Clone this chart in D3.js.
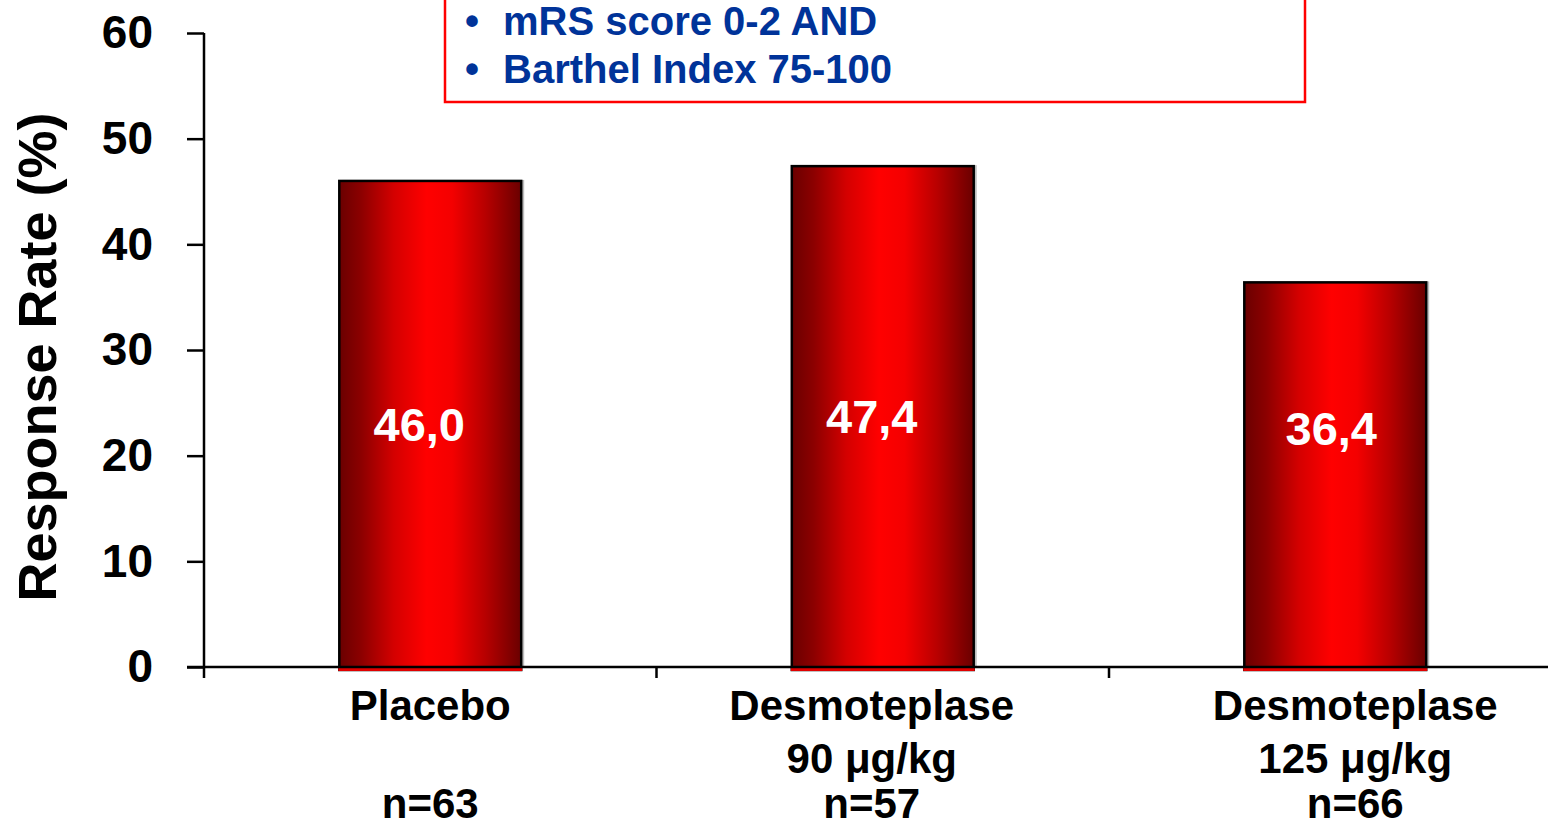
<!DOCTYPE html>
<html>
<head>
<meta charset="utf-8">
<script src="https://cdn.jsdelivr.net/npm/d3@7"></script>
<style>
  html, body { margin: 0; padding: 0; background: #fff; }
  svg { display: block; font-family: "Liberation Sans", Arial, sans-serif; font-weight: bold; }
</style>
</head>
<body>
<svg id="chart" width="1548" height="829"></svg>
<script>
// Response rate by treatment arm
const categories = ["Placebo", "Desmoteplase 90", "Desmoteplase 125"];
const categoryLines = [
  ["Placebo", "", "n=63"],
  ["Desmoteplase", "90 μg/kg", "n=57"],
  ["Desmoteplase", "125 μg/kg", "n=66"]
];
const responseRate = [46.0, 47.4, 36.4];
const valueLabels = ["46,0", "47,4", "36,4"];
const yTicks = [0, 10, 20, 30, 40, 50, 60];
const endpointLines = ["mRS score 0-2 AND", "Barthel Index 75-100"];

// layout
const W = 1548, H = 829;
const plotLeft = 204, plotTop = 33, plotBottom = 667;
const step = 452.5;
const barFrac = 0.402;
const labelDx = [-11, -11, -4];          // small horizontal nudges of value labels
const labelAt = [23.0, 23.7, 22.6];      // value-label anchor, in response-rate units
const catDx = [0, -11, 20];              // nudges of category label blocks
const catLineY = [720, 773, 818];        // baselines of the category label lines

const svg = d3.select("#chart");

const x = d3.scaleBand()
  .domain(categories)
  .range([plotLeft, plotLeft + step * categories.length])
  .padding(0);

const y = d3.scaleLinear().domain([0, 60]).range([plotBottom, plotTop]);

// bar gradient: dark edges, bright red centre
const defs = svg.append("defs");
const grad = defs.append("linearGradient")
  .attr("id", "barGrad").attr("x1", "0%").attr("x2", "100%").attr("y1", "0%").attr("y2", "0%");
[
  [0, "#6a0000"], [0.12, "#8c0000"], [0.3, "#d40000"], [0.48, "#ff0000"],
  [0.62, "#f40000"], [0.8, "#b80000"], [1, "#6a0000"]
].forEach(([o, c]) => grad.append("stop").attr("offset", o).attr("stop-color", c));

const barW = x.bandwidth() * barFrac;
const barX = c => x(c) + (x.bandwidth() - barW) / 2;

// soft shadow on the right
svg.append("g").selectAll("rect")
  .data(categories)
  .join("rect")
  .attr("x", c => barX(c) + 3)
  .attr("y", (c, i) => y(responseRate[i]) - 1)
  .attr("width", barW)
  .attr("height", (c, i) => y(0) - y(responseRate[i]))
  .attr("fill", "#bdbdbd");

// bars (fill runs a touch below the baseline)
svg.append("g").selectAll("rect")
  .data(categories)
  .join("rect")
  .attr("x", c => barX(c))
  .attr("y", (c, i) => y(responseRate[i]))
  .attr("width", barW)
  .attr("height", (c, i) => y(0) - y(responseRate[i]) + 3)
  .attr("fill", "url(#barGrad)")
  .attr("stroke", "#000")
  .attr("stroke-width", 2.5);
svg.append("g").selectAll("rect")
  .data(categories)
  .join("rect")
  .attr("x", c => barX(c) - 1)
  .attr("y", y(0) + 1)
  .attr("width", barW + 2)
  .attr("height", 3)
  .attr("fill", "#e00000");

// value labels
svg.append("g").selectAll("text")
  .data(categories)
  .join("text")
  .attr("x", (c, i) => x(c) + x.bandwidth() / 2 + labelDx[i])
  .attr("y", (c, i) => y(labelAt[i]))
  .attr("dy", "0.36em")
  .attr("text-anchor", "middle")
  .attr("fill", "#fff")
  .attr("font-size", 47)
  .text((c, i) => valueLabels[i]);

// y axis
const yAxis = svg.append("g")
  .attr("transform", `translate(${plotLeft},0)`)
  .call(d3.axisLeft(y).tickValues(yTicks).tickFormat(d3.format("d")).tickSize(17).tickPadding(34));
yAxis.select(".domain").attr("stroke", "#000").attr("stroke-width", 2.5).attr("d", `M0,${plotTop}V${plotBottom}`);
yAxis.selectAll(".tick line").attr("stroke", "#000").attr("stroke-width", 2.5);
yAxis.selectAll(".tick text")
  .attr("font-size", 46).attr("font-family", "Liberation Sans, Arial, sans-serif")
  .attr("font-weight", "bold").attr("fill", "#000");

// x axis baseline and category separators
svg.append("line")
  .attr("x1", plotLeft - 17).attr("x2", W)
  .attr("y1", y(0)).attr("y2", y(0))
  .attr("stroke", "#000").attr("stroke-width", 2.5);
svg.append("g").selectAll("line")
  .data(categories)
  .join("line")
  .attr("x1", c => x(c)).attr("x2", c => x(c))
  .attr("y1", y(0)).attr("y2", y(0) + 11)
  .attr("stroke", "#000").attr("stroke-width", 2.5);

// category labels
const cat = svg.append("g").selectAll("text")
  .data(categories)
  .join("text")
  .attr("text-anchor", "middle")
  .attr("font-size", 42)
  .attr("fill", "#000");
cat.each(function (c, i) {
  const t = d3.select(this);
  categoryLines[i].forEach((line, k) => {
    t.append("tspan")
      .attr("x", x(c) + x.bandwidth() / 2 + catDx[i])
      .attr("y", catLineY[k])
      .text(line);
  });
});

// y axis title
svg.append("text")
  .attr("transform", `translate(56,357) rotate(-90)`)
  .attr("text-anchor", "middle")
  .attr("font-size", 54)
  .attr("fill", "#000")
  .text("Response Rate (%)");

// endpoint definition box
svg.append("rect")
  .attr("x", 445).attr("y", -20)
  .attr("width", 860).attr("height", 122)
  .attr("fill", "#fff")
  .attr("stroke", "#ff0000").attr("stroke-width", 2.5);
const box = svg.append("g").attr("fill", "#003399").attr("font-size", 40);
endpointLines.forEach((line, k) => {
  box.append("text").attr("x", 465).attr("y", 35 + k * 48).text("•");
  box.append("text").attr("x", 503).attr("y", 35 + k * 48).text(line);
});
</script>
</body>
</html>
